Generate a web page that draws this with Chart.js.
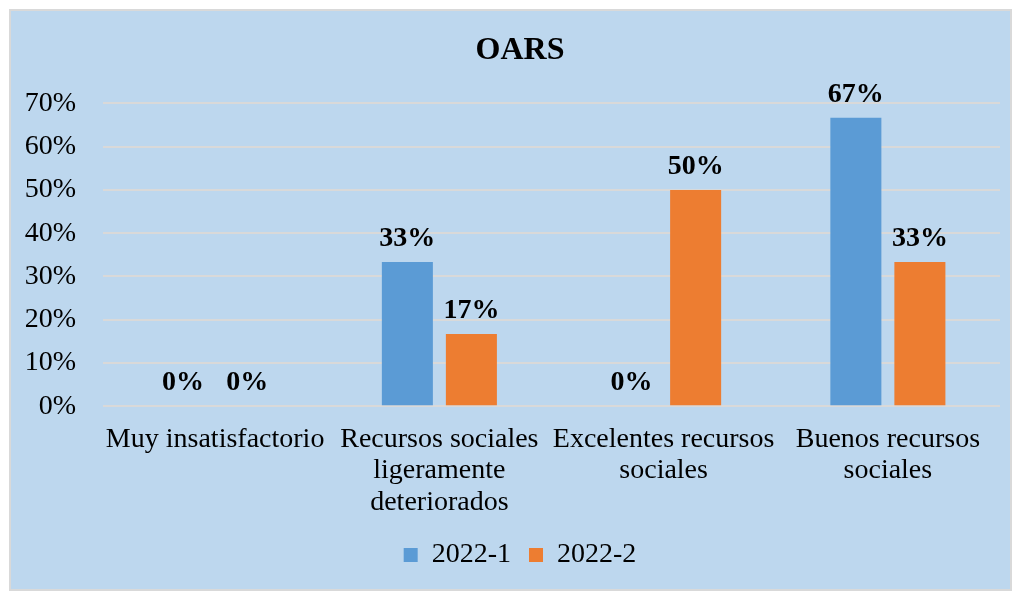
<!DOCTYPE html>
<html>
<head>
<meta charset="utf-8">
<script src="https://cdn.jsdelivr.net/npm/chart.js@4.4.0/dist/chart.umd.min.js"></script>
<style>
html,body{margin:0;padding:0;background:#fff;}
#wrap{width:1016px;height:592px;}
</style>
</head>
<body>
<div id="wrap"><canvas id="c" width="1016" height="592"></canvas></div>
<script>
const categories = [
  ['Muy insatisfactorio'],
  ['Recursos sociales', 'ligeramente', 'deteriorados'],
  ['Excelentes recursos', 'sociales'],
  ['Buenos recursos', 'sociales']
];
const series1 = [0, 33.33, 0, 66.67];   // 2022-1
const series2 = [0, 16.67, 50, 33.33];  // 2022-2
const seriesNames = ['2022-1', '2022-2'];
const yTicks = [0, 10, 20, 30, 40, 50, 60, 70];

const FONT = 'Liberation Serif, "Times New Roman", serif';

const bgPlugin = {
  id: 'bg',
  beforeDraw(chart) {
    const ctx = chart.ctx;
    ctx.save();
    ctx.fillStyle = '#ffffff';
    ctx.fillRect(0, 0, chart.width, chart.height);
    ctx.fillStyle = '#BDD7EE';
    ctx.fillRect(10, 10, 1001, 580);
    ctx.strokeStyle = '#D9D9D9';
    ctx.lineWidth = 2;
    ctx.strokeRect(10, 10, 1001, 580);
    ctx.restore();
  }
};

const labelPlugin = {
  id: 'vlabels',
  afterDatasetsDraw(chart) {
    const ctx = chart.ctx;
    ctx.save();
    ctx.font = 'bold 28px ' + FONT;
    ctx.fillStyle = '#000';
    ctx.textAlign = 'center';
    ctx.textBaseline = 'alphabetic';
    chart.data.datasets.forEach((ds, i) => {
      const meta = chart.getDatasetMeta(i);
      meta.data.forEach((bar, j) => {
        const v = ds.data[j];
        ctx.fillText(Math.round(v) + '%', bar.x, bar.y - 16);
      });
    });
    ctx.restore();
  }
};

new Chart(document.getElementById('c'), {
  type: 'bar',
  data: {
    labels: categories,
    datasets: [
      { label: seriesNames[0], data: series1, backgroundColor: '#5B9BD5', categoryPercentage: 0.571, barPercentage: 0.797 },
      { label: seriesNames[1], data: series2, backgroundColor: '#ED7D31', categoryPercentage: 0.571, barPercentage: 0.797 }
    ]
  },
  options: {
    responsive: false,
    animation: false,
    devicePixelRatio: 1,
    layout: { padding: { left: 24, right: 0, top: 10, bottom: 13 } },
    plugins: {
      title: {
        display: true,
        text: 'OARS',
        color: '#000',
        font: { family: FONT, size: 32, weight: 'bold' },
        padding: { top: 22, bottom: 33 }
      },
      legend: {
        position: 'bottom',
        labels: {
          color: '#000',
          font: { family: FONT, size: 28 },
          boxWidth: 14,
          boxHeight: 14,
          padding: 18
        }
      },
      tooltip: { enabled: false }
    },
    scales: {
      x: {
        grid: { display: false },
        border: { display: false },
        afterFit(scale) { scale.height -= 5; },
        ticks: {
          color: '#000',
          font: { family: FONT, size: 28, lineHeight: 1.14 },
          padding: 9,
          maxRotation: 0,
          autoSkip: false
        }
      },
      y: {
        min: 0,
        max: 70,
        afterFit(scale) { scale.width = 79; },
        afterBuildTicks(scale) { scale.ticks = yTicks.map(v => ({ value: v })); },
        grid: { color: '#D9D9D9', lineWidth: 2, drawTicks: false },
        border: { display: false },
        ticks: {
          color: '#000',
          font: { family: FONT, size: 28 },
          padding: 27,
          callback: v => v + '%'
        }
      },
      yRight: {
        position: 'right',
        min: 0,
        max: 70,
        afterFit(scale) { scale.width = 16; },
        grid: { display: false, drawTicks: false },
        border: { display: false },
        ticks: { display: false }
      }
    }
  },
  plugins: [bgPlugin, labelPlugin]
});
</script>
</body>
</html>
